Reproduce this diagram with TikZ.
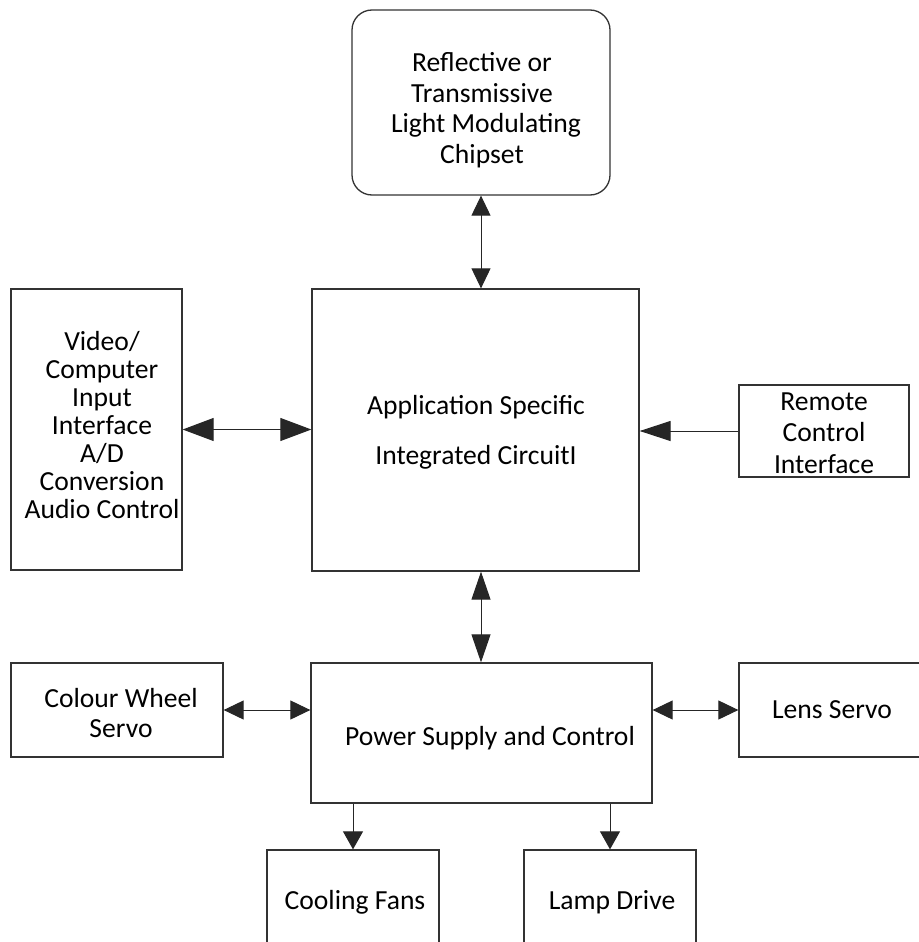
\documentclass[tikz,border=0pt]{standalone}
\usepackage{fontspec}
\setmainfont{Carlito}
\usetikzlibrary{arrows.meta}
\begin{document}
\begin{tikzpicture}[x=1pt,y=-1pt,
  box/.style 2 args={draw=black!80, line width=1.3pt, inner sep=0pt,
    minimum width=#1pt, minimum height=#2pt},
  lbl/.style={inner sep=0pt, align=center, font=\fontsize{27.6}{30.5}\selectfont},
  wire/.style={draw=black!85, line width=1pt},
  headL/.style={>={Triangle[length=31pt,width=23pt]}},
  headR/.style={>={Triangle[length=31pt,width=20pt]}},
  headM/.style={>={Triangle[length=28pt,width=19pt]}},
  headS/.style={>={Triangle[length=20pt,width=19pt]}},
  headT/.style={>={Triangle[length=18pt,width=20pt]}}]
\useasboundingbox (0,0) rectangle (918,942);

% blocks
\node[box={258}{185}, rounded corners=20pt] (chip) at (481,102.5) {};
\node[box={171}{281}] (video) at (96.5,429.5) {};
\node[box={327}{282}] (asic) at (475.5,430) {};
\node[box={170}{92}] (remote) at (824,431) {};
\node[box={341}{140}] (power) at (481.5,733) {};
\node[box={212}{94}] (colour) at (117,710) {};
\node[box={221}{94}] (lens) at (849.5,710) {};
\node[box={172}{120}] (fans) at (353,910) {};
\node[box={172}{120}] (lamp) at (610,910) {};

% block texts
\node[lbl] (chiptxt) at (482,110) {Reflective or\\Transmissive\hspace{8pt}\\\hspace{8pt}Light Modulating\\Chipset};
\node[lbl, font=\fontsize{27.6}{28}\selectfont] (videotxt) at (102,425) {Video/\\Computer\\Input\\Interface\\A/D\\Conversion\\Audio Control};
\node[lbl, font=\fontsize{27.6}{50}\selectfont] (asictxt) at (476,432) {Application Specific\\Integrated CircuitI};
\node[lbl, font=\fontsize{27.6}{31.5}\selectfont] (remotetxt) at (824,433) {Remote\\Control\\Interface};
\node[lbl] (powertxt) at (490,738) {Power Supply and Control};
\node[lbl] (colourtxt) at (121,713) {Colour Wheel\\Servo};
\node[lbl] (lenstxt) at (832,710) {Lens Servo};
\node[lbl] (fanstxt) at (355,902) {Cooling Fans};
\node[lbl] (lamptxt) at (612,902) {Lamp Drive};

% connectors
\draw[wire, headS, <->] (chip.south) -- (chip.south |- asic.north);
\draw[wire, headL, <->] (video.east) -- (video.east -| asic.west);
\draw[wire, headR, ->] (remote.west) -- (remote.west -| asic.east);
\draw[wire, headM, <->] (chip.south |- asic.south) -- (chip.south |- power.north);
\draw[wire, headS, <->] (colour.east) -- (colour.east -| power.west);
\draw[wire, headS, <->] (lens.west) -- (lens.west -| power.east);
\draw[wire, headT, ->] (fans.north |- power.south) -- (fans.north);
\draw[wire, headT, ->] (lamp.north |- power.south) -- (lamp.north);
\end{tikzpicture}
\end{document}
